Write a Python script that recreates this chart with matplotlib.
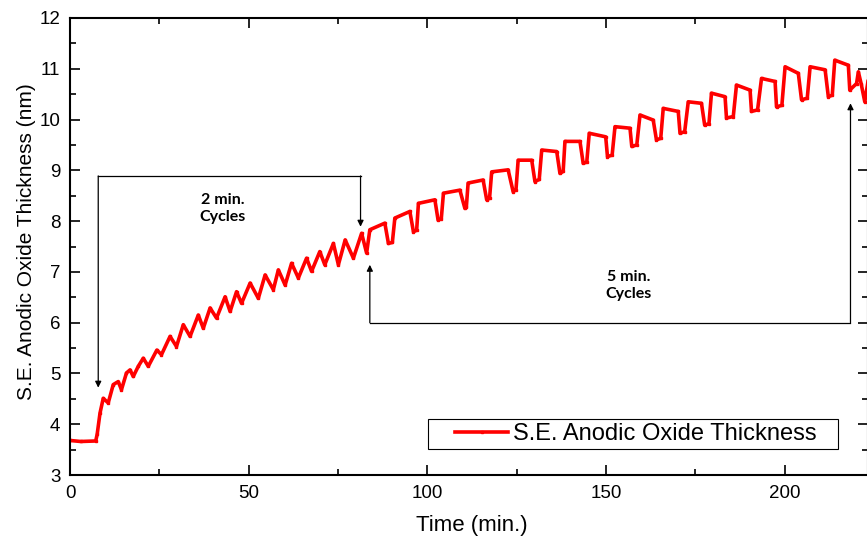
import matplotlib
matplotlib.use('Agg')
import matplotlib.pyplot as plt
from matplotlib.ticker import MultipleLocator
from matplotlib.patches import Rectangle

### DATA
# baseline + 2 min. cycles
t_short = [0.0, 3.0, 7.2, 7.6, 8.4, 9.3, 10.7, 12.1, 13.5, 14.4, 15.8, 16.8, 17.7, 19.1,
           20.5, 21.9, 24.3, 25.6, 28.0, 29.8, 31.7, 33.6, 35.9, 37.3, 39.2, 41.0, 43.4,
           44.8, 46.6, 48.0, 50.4, 52.7, 54.6, 56.9, 58.3, 60.2, 62.0, 63.9, 66.2, 67.6,
           69.9, 71.3, 73.7, 75.1, 77.0, 79.3, 81.6, 83.0]
y_short = [3.68, 3.66, 3.67, 3.80, 4.22, 4.51, 4.42, 4.78, 4.84, 4.68, 5.01, 5.07, 4.94, 5.14,
           5.30, 5.14, 5.46, 5.37, 5.73, 5.53, 5.96, 5.73, 6.15, 5.89, 6.29, 6.09, 6.51,
           6.22, 6.61, 6.38, 6.78, 6.48, 6.94, 6.65, 7.04, 6.74, 7.17, 6.88, 7.27, 7.01,
           7.40, 7.14, 7.56, 7.14, 7.63, 7.27, 7.76, 7.37]

# 5 min. cycles
t_long = [83.9, 88.1, 89.1, 90.2, 90.9, 95.1, 96.1, 97.0, 97.5, 102.1, 103.0, 103.9,
          104.5, 109.1, 110.5, 110.9, 111.4, 115.6, 116.6, 117.4, 118.0, 122.6, 124.0, 124.8,
          125.4, 129.2, 130.1, 131.3, 132.0, 136.2, 137.1, 138.0, 138.5, 142.7, 143.6, 144.6,
          145.3, 149.9, 150.4, 151.7, 152.5, 156.7, 157.2, 158.6, 159.5, 163.2, 164.1, 165.3,
          166.0, 170.2, 170.7, 172.0, 173.0, 176.7, 177.6, 178.8, 179.5, 183.3, 183.7, 185.6,
          186.5, 190.3, 190.7, 192.4, 193.5, 197.3, 197.7, 199.2, 200.1, 203.8, 204.7, 206.3,
          207.1, 211.3, 212.2, 213.3, 214.0, 217.8, 218.2, 220.1, 220.6, 221.4, 222.4, 223.3]
y_long = [7.83, 7.96, 7.56, 7.58, 8.06, 8.19, 7.79, 7.82, 8.35, 8.42, 8.02, 8.05,
          8.55, 8.61, 8.25, 8.27, 8.75, 8.81, 8.42, 8.45, 8.97, 9.01, 8.58, 8.62,
          9.20, 9.20, 8.78, 8.82, 9.40, 9.37, 8.94, 8.98, 9.57, 9.57, 9.14, 9.16,
          9.73, 9.66, 9.27, 9.30, 9.86, 9.83, 9.47, 9.50, 10.09, 9.99, 9.60, 9.63,
          10.22, 10.16, 9.73, 9.76, 10.35, 10.32, 9.89, 9.92, 10.52, 10.45, 10.03, 10.06,
          10.68, 10.58, 10.16, 10.19, 10.81, 10.75, 10.25, 10.28, 11.04, 10.91, 10.39, 10.42,
          11.04, 10.98, 10.45, 10.48, 11.17, 11.07, 10.58, 10.71, 10.94, 10.70, 10.35, 10.75]

time = t_short + t_long
thickness = y_short + y_long

### FIGURE
fig = plt.figure(figsize=(8.67, 5.48), dpi=100)
ax = fig.add_axes([70 / 867, 73 / 548, 798 / 867, 457 / 548])

ax.plot(time, thickness, color='#ff0000', lw=2.6, marker='s', markersize=1.5,
        label='S.E. Anodic Oxide Thickness')

ax.set_xlim(0, 223.3)
ax.set_ylim(3, 12)
ax.xaxis.set_major_locator(MultipleLocator(50))
ax.xaxis.set_minor_locator(MultipleLocator(25))
ax.yaxis.set_major_locator(MultipleLocator(1))
ax.yaxis.set_minor_locator(MultipleLocator(0.5))
ax.tick_params(which='both', direction='in', top=True, right=True, width=1.2)
ax.tick_params(which='major', length=7, labelsize=13.5, pad=7)
ax.tick_params(which='minor', length=4)
for lab in ax.get_xticklabels() + ax.get_yticklabels():
    lab.set_family('Liberation Sans')
for sp in ax.spines.values():
    sp.set_linewidth(1.5)

ax.set_xlabel('Time (min.)', fontsize=16, family='Liberation Sans')
ax.set_ylabel('S.E. Anodic Oxide Thickness (nm)', fontsize=15, family='Liberation Sans')
ax.xaxis.set_label_coords(0.504, -0.088)
ax.yaxis.set_label_coords(-0.042, 0.51)

### BRACKETS AND NOTES
arrow = dict(arrowstyle='-|>', color='black', lw=0.9, shrinkA=0, shrinkB=0, mutation_scale=9)
ax.plot([7.9, 81.3], [8.89, 8.89], color='black', lw=0.9)
ax.annotate('', xy=(7.9, 4.72), xytext=(7.9, 8.89), arrowprops=arrow)
ax.annotate('', xy=(81.3, 7.89), xytext=(81.3, 8.89), arrowprops=arrow)
ax.text(42.8, 8.25, '2 min.\nCycles', fontsize=11.5, family='Lato', weight='bold',
        ha='center', va='center', linespacing=1.25)

ax.plot([83.9, 218.4], [6.0, 6.0], color='black', lw=0.9)
ax.annotate('', xy=(83.9, 7.14), xytext=(83.9, 6.0), arrowprops=arrow)
ax.annotate('', xy=(218.4, 10.32), xytext=(218.4, 6.0), arrowprops=arrow)
ax.text(156.4, 6.73, '5 min.\nCycles', fontsize=11.5, family='Lato', weight='bold',
        ha='center', va='center', linespacing=1.25)

### LEGEND (frame drawn by hand for the wide padding)
ax.add_patch(Rectangle((0.449, 0.057), 0.513, 0.0655, transform=ax.transAxes,
                       fill=False, ec='black', lw=0.8))
ax.legend(loc='center left', bbox_to_anchor=(0.4825, 0.0897), frameon=False,
          borderpad=0, borderaxespad=0, handlelength=2.25, handletextpad=0.2,
          prop={'family': 'Liberation Sans', 'size': 17})

fig.savefig('out.png', dpi=100)
